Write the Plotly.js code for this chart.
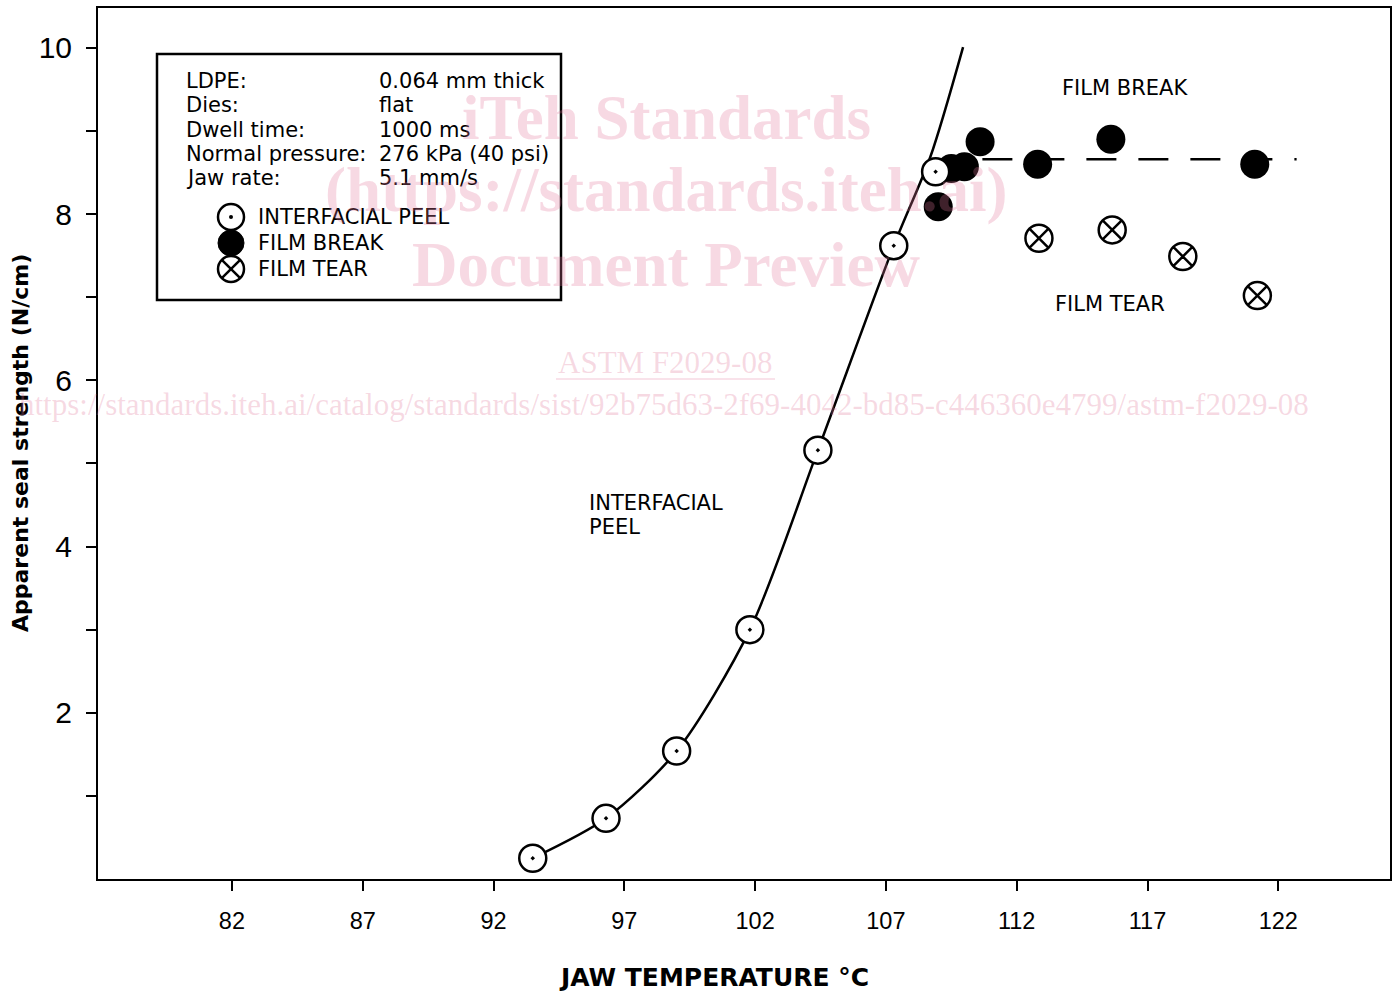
<!DOCTYPE html>
<html>
<head>
<meta charset="utf-8">
<script src="https://cdn.plot.ly/plotly-3.0.1.min.js"></script>
<style>
html,body{margin:0;padding:0;background:#fff;}
#chart{width:1396px;height:991px;}
#chart .xtick text, #chart .ytick text{font-stretch:condensed;}
</style>
</head>
<body>
<div id="chart"></div>
<script>
// ---- data ----
const peelTemp      = [93.5, 96.3, 99.0, 101.8, 104.4, 107.3, 108.9];
const peelStrength  = [0.25, 0.73, 1.54, 3.00, 5.16, 7.62, 8.51];
const breakTemp     = [109.0, 109.5, 110.0, 110.6, 112.8, 115.6, 121.1];
const breakStrength = [8.09, 8.55, 8.57, 8.87, 8.60, 8.90, 8.60];
const tearTemp      = [112.85, 115.65, 118.35, 121.2];
const tearStrength  = [7.71, 7.81, 7.49, 7.02];
const curveTemp     = [93.5, 96.3, 99.0, 101.8, 104.4, 107.3, 108.7, 109.95];
const curveStrength = [0.25, 0.73, 1.54, 3.00, 5.16, 7.62, 8.69, 10.01];
const breakLineTemp     = [108.7, 122.7];
const breakLineStrength = [8.66, 8.66];
const xTickVals = [82, 87, 92, 97, 102, 107, 112, 117, 122];
const yTickVals = [1, 2, 3, 4, 5, 6, 7, 8, 9, 10];
const yTickText = ['', '2', '', '4', '', '6', '', '8', '', '10'];
const paramLabels = ['LDPE:', 'Dies:', 'Dwell time:', 'Normal pressure:', 'Jaw rate:'];
const paramValues = ['0.064 mm thick', 'flat', '1000 ms', '276 kPa (40 psi)', '5.1 mm/s'];
const keyLabels = ['INTERFACIAL PEEL', 'FILM BREAK', 'FILM TEAR'];
const xTitle = 'JAW TEMPERATURE °C';
const yTitle = 'Apparent seal strength (N/cm)';
const watermark = ['iTeh Standards', '(https://standards.iteh.ai)', 'Document Preview'];
const wmCode = 'ASTM F2029-08';
const wmUrl = 'https://standards.iteh.ai/catalog/standards/sist/92b75d63-2f69-4042-bd85-c446360e4799/astm-f2029-08';

// ---- layout helpers (pixel -> paper) ----
const L = 98, R = 1390, T = 8, B = 879;
const px = x => (x - L) / (R - L);
const py = y => (B - y) / (B - T);

const bodyFont = {family: 'DejaVu Sans, Verdana, sans-serif', size: 21, color: '#000'};
const narrow = 'Liberation Sans Narrow, Liberation Sans, Arial, sans-serif';
const wmColor = 'rgba(225,120,155,0.28)';

const traces = [
  {x: curveTemp, y: curveStrength, mode: 'lines', line: {color: '#000', width: 2.5, shape: 'spline', smoothing: 0.8}, hoverinfo: 'skip'},
  {x: breakLineTemp, y: breakLineStrength, mode: 'lines', line: {color: '#000', width: 2.5, dash: '30px,22px'}, hoverinfo: 'skip'},
  {x: breakTemp, y: breakStrength, mode: 'markers', name: keyLabels[1],
   marker: {symbol: 'circle', size: 29, color: '#000', line: {width: 0}}},
  {x: tearTemp, y: tearStrength, mode: 'markers', name: keyLabels[2],
   marker: {symbol: 'circle-x', size: 27, color: '#fff', line: {color: '#000', width: 2.5}}},
  {x: peelTemp, y: peelStrength, mode: 'markers', name: keyLabels[0],
   marker: {symbol: 'circle-dot', size: 27, color: '#fff', line: {color: '#000', width: 2.5}}}
];

const annotations = [];
// parameter block
const rowY = [81, 105, 129.5, 154, 178];
paramLabels.forEach((t, i) => {
  annotations.push({xref: 'paper', yref: 'paper', x: px(184), y: py(rowY[i]), xanchor: 'left', yanchor: 'middle', text: t, showarrow: false, font: bodyFont});
  annotations.push({xref: 'paper', yref: 'paper', x: px(377), y: py(rowY[i]), xanchor: 'left', yanchor: 'middle', text: paramValues[i], showarrow: false, font: bodyFont});
});
// key labels
const keyY = [217, 243, 269];
keyLabels.forEach((t, i) => {
  annotations.push({xref: 'paper', yref: 'paper', x: px(256), y: py(keyY[i]), xanchor: 'left', yanchor: 'middle', text: t, showarrow: false, font: bodyFont});
});
// in-plot labels
annotations.push({xref: 'paper', yref: 'paper', x: px(1125), y: py(88), xanchor: 'center', yanchor: 'middle', text: 'FILM BREAK', showarrow: false, font: bodyFont});
annotations.push({xref: 'paper', yref: 'paper', x: px(1110), y: py(304), xanchor: 'center', yanchor: 'middle', text: 'FILM TEAR', showarrow: false, font: bodyFont});
annotations.push({xref: 'paper', yref: 'paper', x: px(587), y: py(503), xanchor: 'left', yanchor: 'middle', text: 'INTERFACIAL', showarrow: false, font: bodyFont});
annotations.push({xref: 'paper', yref: 'paper', x: px(587), y: py(527), xanchor: 'left', yanchor: 'middle', text: 'PEEL', showarrow: false, font: bodyFont});
// axis titles
annotations.push({xref: 'paper', yref: 'paper', x: px(714), y: py(977), xanchor: 'center', yanchor: 'middle', text: '<b>' + xTitle + '</b>', showarrow: false,
  font: {family: 'DejaVu Sans, Verdana, sans-serif', size: 25, color: '#000'}});
annotations.push({xref: 'paper', yref: 'paper', x: px(21), y: py(443), xanchor: 'center', yanchor: 'middle', textangle: -90, text: '<b>' + yTitle + '</b>', showarrow: false,
  font: {family: 'DejaVu Sans, sans-serif', size: 22, color: '#000'}});
// watermark
const wmY = [118, 190, 265];
watermark.forEach((t, i) => {
  annotations.push({xref: 'paper', yref: 'paper', x: px(666), y: py(wmY[i]), xanchor: 'center', yanchor: 'middle', text: '<b>' + t + '</b>', showarrow: false,
    font: {family: 'Liberation Serif, Times New Roman, serif', size: 63, color: wmColor}});
});
annotations.push({xref: 'paper', yref: 'paper', x: px(665), y: py(363), xanchor: 'center', yanchor: 'middle', text: wmCode, showarrow: false,
  font: {family: 'Liberation Serif, Times New Roman, serif', size: 31, color: wmColor}});
annotations.push({xref: 'paper', yref: 'paper', x: px(664), y: py(404), xanchor: 'center', yanchor: 'middle', text: wmUrl, showarrow: false,
  font: {family: 'Liberation Serif, Times New Roman, serif', size: 31, color: wmColor}});

// key box and symbols
const keyX = px(231);
const shapes = [
  {type: 'rect', xref: 'paper', yref: 'paper', x0: px(157), x1: px(561), y0: py(300), y1: py(54), line: {color: '#000', width: 2.5}, fillcolor: 'rgba(0,0,0,0)'},
  {type: 'line', xref: 'paper', yref: 'paper', x0: px(556), x1: px(775), y0: py(379), y1: py(379), line: {color: wmColor, width: 1.5}}
];
function circ(cy, fill, lw) {
  return {type: 'circle', xref: 'paper', yref: 'paper', xsizemode: 'pixel', ysizemode: 'pixel', xanchor: keyX, yanchor: py(cy),
    x0: -13, x1: 13, y0: -13, y1: 13, fillcolor: fill, line: {color: '#000', width: lw}};
}
shapes.push(circ(keyY[0], '#fff', 2.5));
shapes.push({type: 'circle', xref: 'paper', yref: 'paper', xsizemode: 'pixel', ysizemode: 'pixel', xanchor: keyX, yanchor: py(keyY[0]),
  x0: -2, x1: 2, y0: -2, y1: 2, fillcolor: '#000', line: {width: 0}});
shapes.push(circ(keyY[1], '#000', 1));
shapes.push(circ(keyY[2], '#fff', 2.5));
shapes.push({type: 'line', xref: 'paper', yref: 'paper', xsizemode: 'pixel', ysizemode: 'pixel', xanchor: keyX, yanchor: py(keyY[2]),
  x0: -9.2, x1: 9.2, y0: -9.2, y1: 9.2, line: {color: '#000', width: 2.5}});
shapes.push({type: 'line', xref: 'paper', yref: 'paper', xsizemode: 'pixel', ysizemode: 'pixel', xanchor: keyX, yanchor: py(keyY[2]),
  x0: -9.2, x1: 9.2, y0: 9.2, y1: -9.2, line: {color: '#000', width: 2.5}});

const layout = {
  width: 1396, height: 991,
  margin: {l: L, r: 1396 - R, t: T, b: 991 - B},
  paper_bgcolor: '#fff', plot_bgcolor: '#fff',
  showlegend: false,
  xaxis: {range: [76.88, 126.27], tickvals: xTickVals, ticks: 'outside', ticklen: 10, tickwidth: 2, tickcolor: '#000',
    showline: true, linecolor: '#000', linewidth: 2, mirror: true, showgrid: false, zeroline: false,
    tickfont: {family: narrow, size: 23.5, color: '#000'}, ticklabelstandoff: 10},
  yaxis: {range: [0, 10.48], tickvals: yTickVals, ticktext: yTickText, ticks: 'outside', ticklen: 10, tickwidth: 2, tickcolor: '#000',
    showline: true, linecolor: '#000', linewidth: 2, mirror: true, showgrid: false, zeroline: false,
    tickfont: {family: narrow, size: 30, color: '#000'}, ticklabelstandoff: 8},
  annotations: annotations,
  shapes: shapes
};

Plotly.newPlot('chart', traces, layout, {displayModeBar: false, staticPlot: true});
</script>
</body>
</html>
